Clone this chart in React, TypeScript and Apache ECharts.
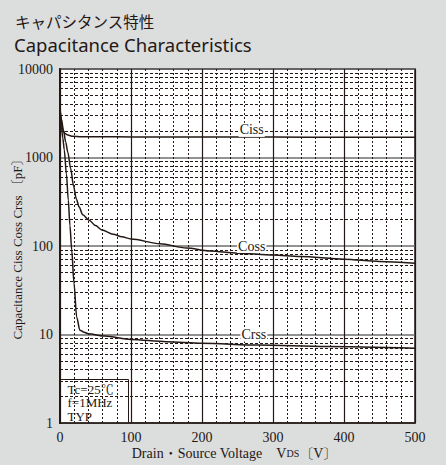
import React, { useEffect, useRef } from 'react';
import * as echarts from 'echarts';

// ---- data ----
const cissV = [0, 1, 2, 4, 7, 11, 18, 30, 60, 100, 200, 300, 400, 500];
const cissC = [4000, 3000, 2500, 2050, 1870, 1790, 1740, 1720, 1715, 1710, 1700, 1700, 1695, 1690];

const cossV = [0, 2, 5, 8, 11, 15, 19, 23, 27, 32, 41, 50, 59, 75, 87, 100, 141, 178, 211, 250, 300, 338, 400, 450, 500];
const cossC = [3500, 2700, 2000, 1500, 1150, 750, 480, 340, 275, 225, 196, 170, 152, 136, 127, 120, 106, 95, 88, 83, 79, 76, 71, 67, 64];

const crssV = [0, 2, 4, 6, 9, 11.7, 14, 16.5, 19.7, 23.5, 28, 34, 40, 63, 100, 150, 200, 280, 375, 500];
const crssC = [3000, 2200, 1650, 1220, 650, 330, 170, 90, 38, 15.7, 11.2, 10.6, 10.2, 9.6, 8.8, 8.3, 7.95, 7.6, 7.3, 7.0];

const seriesNames = ['Ciss', 'Coss', 'Crss'];
const labelCoords: [number, number][] = [[270, 2050], [270, 100], [273, 10]];

const yDecades = [1, 10, 100, 1000];
const yMinorMultipliers = [2, 3, 4, 5, 6, 7, 8, 9];

const titleJa = 'キャパシタンス特性';
const titleEn = 'Capacitance Characteristics';
const yAxisName = 'Capacitance Ciss Coss Crss 〔pF〕';
const conditions = ['Tc=25℃', 'f=1MHz', 'TYP'];

const INK = '#231815';
const SERIF = "'Liberation Serif', 'Times New Roman', 'Noto Serif CJK JP', 'Noto Sans CJK JP', serif";

export default function App() {
  const ref = useRef<HTMLDivElement>(null);

  useEffect(() => {
    document.body.style.margin = '0';
    const chart = echarts.init(ref.current!, null, { renderer: 'svg' });

    const minorY: number[] = [];
    yDecades.forEach((d) => yMinorMultipliers.forEach((m) => minorY.push(d * m)));

    const zip = (xs: number[], ys: number[]) => xs.map((x, i) => [x, ys[i]]);
    const curves = [zip(cissV, cissC), zip(cossV, cossC), zip(crssV, crssC)];

    const option: any = {
      animation: false,
      backgroundColor: '#dcdddd',
      title: [
        {
          text: titleJa,
          left: 10,
          top: 8,
          textStyle: { fontFamily: 'Noto Sans CJK JP', fontSize: 15.5, fontWeight: 'normal', color: INK },
        },
        {
          text: titleEn,
          left: 9,
          top: 30,
          textStyle: { fontFamily: "'Noto Sans', 'Liberation Sans', sans-serif", fontSize: 18.5, fontWeight: 'normal', color: INK },
        },
      ],
      grid: {
        left: 60,
        top: 69,
        right: 31,
        bottom: 42,
        show: true,
        backgroundColor: '#ffffff',
        borderColor: INK,
        borderWidth: 1.5,
        containLabel: false,
        outerBoundsMode: 'none',
      },
      xAxis: {
        type: 'value',
        min: 0,
        max: 500,
        interval: 100,
        name: 'Drain・Source Voltage　V{s|DS}〔V〕',
        nameLocation: 'middle',
        nameGap: 23,
        nameMoveOverlap: false,
        nameTextStyle: {
          fontFamily: SERIF,
          fontSize: 14,
          color: INK,
          padding: [0, 6, 0, 0],
          rich: { s: { fontFamily: SERIF, fontSize: 10, color: INK, padding: [2, 0, 0, 0] } },
        },
        axisLine: { show: true, lineStyle: { color: INK, width: 1.5 } },
        axisTick: { show: false },
        axisLabel: { fontFamily: SERIF, fontSize: 14, color: INK, margin: 7 },
        splitLine: { show: true, lineStyle: { color: INK, width: 1.2 } },
        minorTick: { show: false, splitNumber: 5 },
        minorSplitLine: { show: true, lineStyle: { color: INK, width: 1, type: [2, 2] } },
      },
      yAxis: {
        type: 'log',
        logBase: 10,
        min: 1,
        max: 10000,
        name: yAxisName,
        nameLocation: 'middle',
        nameGap: 36,
        nameMoveOverlap: false,
        nameTextStyle: { fontFamily: SERIF, fontSize: 13, color: INK },
        axisLine: { show: true, lineStyle: { color: INK, width: 2 } },
        axisTick: { show: false },
        axisLabel: { fontFamily: SERIF, fontSize: 14, color: INK, margin: 7, formatter: (v: number) => String(v) },
        splitLine: { show: true, lineStyle: { color: '#6e6e6e', width: 1.5 } },
      },
      series: [
        {
          type: 'line',
          name: 'minorGrid',
          data: [],
          silent: true,
          z: 1,
          markLine: {
            silent: true,
            symbol: ['none', 'none'],
            label: { show: false },
            lineStyle: { color: INK, width: 1, type: [3, 2] },
            data: minorY.map((v) => ({ yAxis: v })),
          },
        },
        ...curves.map((d, i) => ({
          type: 'line',
          name: seriesNames[i],
          data: d,
          showSymbol: false,
          smooth: 0.3,
          smoothMonotone: 'x',
          z: 3,
          lineStyle: { color: INK, width: 1.5 },
          markPoint: {
            symbol: 'rect',
            symbolSize: 1,
            itemStyle: { color: 'rgba(0,0,0,0)' },
            z: 5,
            label: {
              show: true,
              position: 'inside',
              formatter: seriesNames[i],
              fontFamily: SERIF,
              fontSize: 14,
              color: INK,
              backgroundColor: '#ffffff',
              padding: [0, 1],
            },
            data: [{ coord: labelCoords[i] }],
          },
        })),
      ],
      graphic: [
        {
          type: 'group',
          left: 59,
          top: 379,
          z: 10,
          children: [
            {
              type: 'rect',
              shape: { x: 0, y: 0, width: 69, height: 44 },
              style: { fill: '#ffffff', stroke: INK, lineWidth: 1 },
            },
            ...conditions.map((t, i) => ({
              type: 'text',
              x: 8,
              y: 3 + i * 13.5,
              style: { text: t, fontFamily: SERIF, fontSize: 13, fill: INK },
            })),
          ],
        },
      ],
    };

    chart.setOption(option);
    return () => chart.dispose();
  }, []);

  return <div ref={ref} style={{ width: 446, height: 465 }} />;
}
